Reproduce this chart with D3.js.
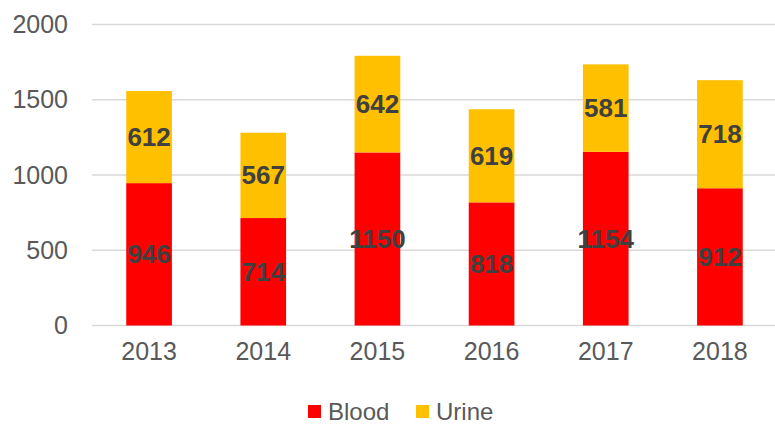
<!DOCTYPE html>
<html>
<head>
<meta charset="utf-8">
<script src="https://cdn.jsdelivr.net/npm/d3@7"></script>
<style>
  body { margin: 0; background: #fff; }
  svg { display: block; font-family: "Liberation Sans", Arial, sans-serif; }
</style>
</head>
<body>
<svg width="775" height="425"></svg>
<script>
const years = ['2013', '2014', '2015', '2016', '2017', '2018'];
const blood = [946, 714, 1150, 818, 1154, 912];
const urine = [612, 567, 642, 619, 581, 718];
const yTicks = [0, 500, 1000, 1500, 2000];

const seriesNames = ['Blood', 'Urine'];
const colors = { Blood: '#FF0000', Urine: '#FFC000' };

const rows = years.map((y, i) => ({ year: y, Blood: blood[i], Urine: urine[i] }));
const stacked = d3.stack().keys(seriesNames)(rows);

const svg = d3.select('svg');

const x = d3.scaleBand()
  .domain(years)
  .range([92, 777])
  .paddingInner(0.6)
  .paddingOuter(0.3);

const y = d3.scaleLinear()
  .domain([0, 2000])
  .range([325.5, 24.5]);

// gridlines
svg.append('g')
  .attr('class', 'grid')
  .selectAll('line')
  .data(yTicks)
  .enter().append('line')
  .attr('x1', 92)
  .attr('x2', 777)
  .attr('y1', d => y(d))
  .attr('y2', d => y(d))
  .attr('stroke', '#D9D9D9')
  .attr('stroke-width', 1.5);

// y axis labels
const yAxis = svg.append('g')
  .attr('transform', 'translate(68,0)')
  .call(d3.axisLeft(y).tickValues(yTicks).tickFormat(d3.format('d')).tickSize(0).tickPadding(0));
yAxis.select('.domain').remove();
yAxis.selectAll('text')
  .attr('font-size', 25)
  .attr('font-family', '"Liberation Sans", Arial, sans-serif')
  .attr('fill', '#595959');

// x axis labels
const xAxis = svg.append('g')
  .attr('transform', 'translate(0,342)')
  .call(d3.axisBottom(x).tickSize(0).tickPadding(0));
xAxis.select('.domain').remove();
xAxis.selectAll('text')
  .attr('font-size', 25)
  .attr('font-family', '"Liberation Sans", Arial, sans-serif')
  .attr('fill', '#595959');

// bars
const layers = svg.append('g')
  .selectAll('g')
  .data(stacked)
  .enter().append('g')
  .attr('fill', d => colors[d.key]);

layers.selectAll('rect')
  .data(d => d)
  .enter().append('rect')
  .attr('x', d => x(d.data.year))
  .attr('width', x.bandwidth())
  .attr('y', d => y(d[1]))
  .attr('height', d => y(d[0]) - y(d[1]));

// value labels
layers.selectAll('text')
  .data(d => d.map(p => Object.assign({ key: d.key }, p)))
  .enter().append('text')
  .attr('x', d => x(d.data.year) + x.bandwidth() / 2)
  .attr('y', d => y((d[0] + d[1]) / 2))
  .attr('dy', '0.35em')
  .attr('text-anchor', 'middle')
  .attr('font-size', 26)
  .attr('font-weight', 'bold')
  .attr('fill', '#404040')
  .text(d => d.data[d.key]);

// legend
const legendX = [308, 416];
const legend = svg.append('g')
  .selectAll('g')
  .data(seriesNames)
  .enter().append('g')
  .attr('transform', (d, i) => `translate(${legendX[i]},405)`);

legend.append('rect')
  .attr('width', 13)
  .attr('height', 13)
  .attr('fill', d => colors[d]);

legend.append('text')
  .attr('x', 20)
  .attr('y', 6.5)
  .attr('dy', '0.35em')
  .attr('font-size', 24)
  .attr('fill', '#595959')
  .text(d => d);
</script>
</body>
</html>
